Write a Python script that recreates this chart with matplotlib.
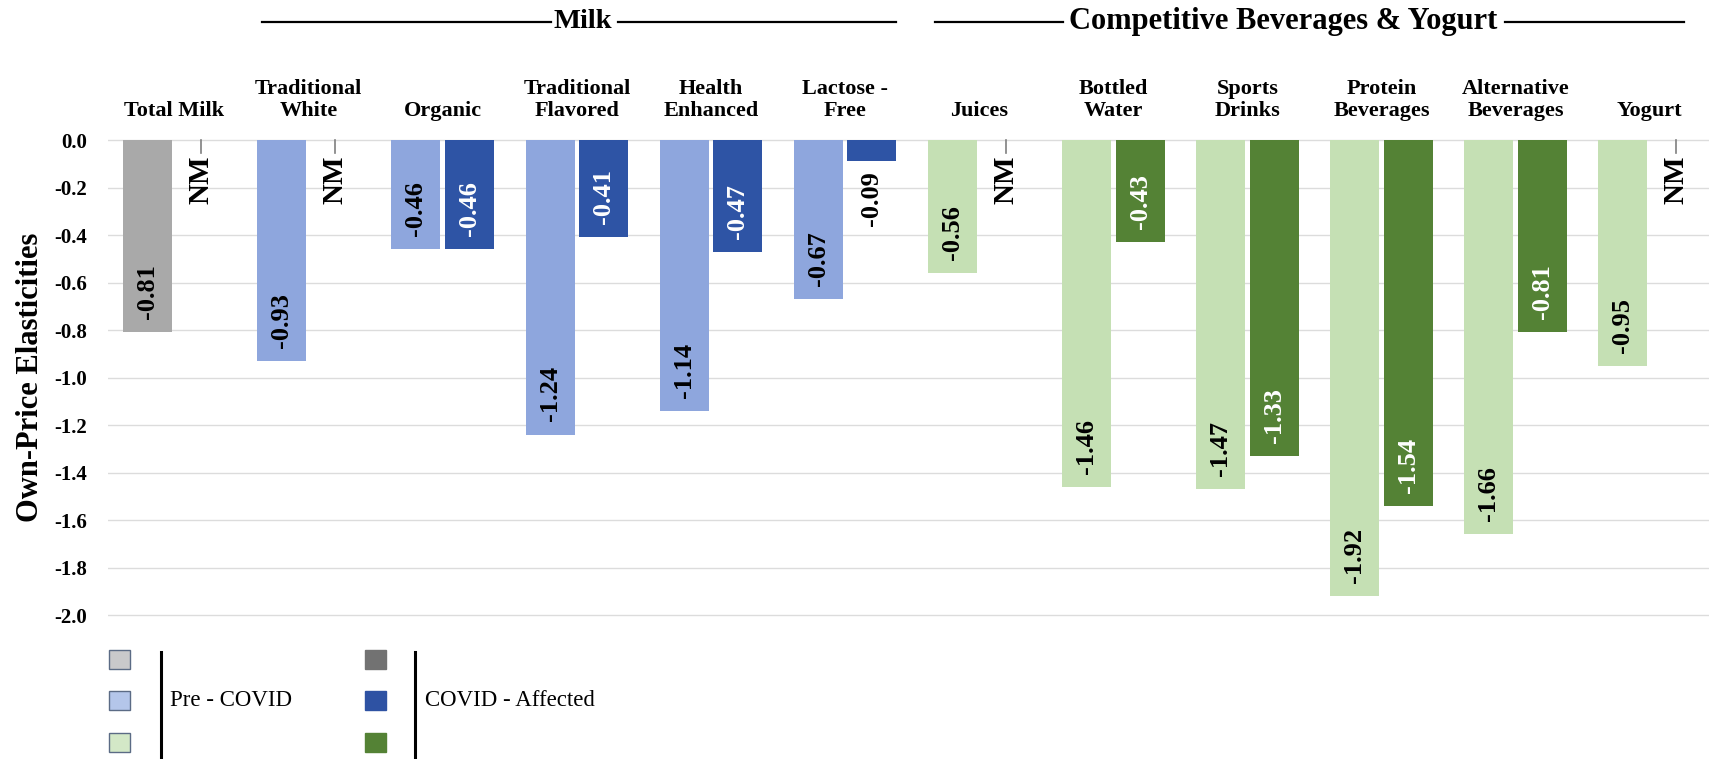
import numpy as np
import matplotlib
matplotlib.use("Agg")
import matplotlib.pyplot as plt
import matplotlib.transforms as mtransforms
from matplotlib.patches import Rectangle
from matplotlib.lines import Line2D

plt.rcParams["font.family"] = ["Liberation Serif", "DejaVu Serif"]

# ---- data -------------------------------------------------------------
categories = ["Total Milk", "Traditional\nWhite", "Organic", "Traditional\nFlavored",
              "Health\nEnhanced", "Lactose -\nFree", "Juices", "Bottled\nWater",
              "Sports\nDrinks", "Protein\nBeverages", "Alternative\nBeverages", "Yogurt"]
segment = ["total", "milk", "milk", "milk", "milk", "milk",
           "bev", "bev", "bev", "bev", "bev", "bev"]
pre_covid = [-0.81, -0.93, -0.46, -1.24, -1.14, -0.67,
             -0.56, -1.46, -1.47, -1.92, -1.66, -0.95]
covid_affected = [None, None, -0.46, -0.41, -0.47, -0.09,
                  None, -0.43, -1.33, -1.54, -0.81, None]
y_ticks = [0.0, -0.2, -0.4, -0.6, -0.8, -1.0, -1.2, -1.4, -1.6, -1.8, -2.0]
y_tick_labels = ["0.0", "-0.2", "-0.4", "-0.6", "-0.8", "-1.0",
                 "-1.2", "-1.4", "-1.6", "-1.8", "-2.0"]
headers = ["Milk", "Competitive Beverages & Yogurt"]
legend_labels = ["Pre - COVID", "COVID - Affected"]

# ---- styles -----------------------------------------------------------
pre_colors = {"total": "#A9A9A9", "milk": "#8EA6DD", "bev": "#C5E0B4"}
covid_colors = {"total": "#737373", "milk": "#2E54A5", "bev": "#548235"}
legend_pre = ["#C9C9CB", "#B4C6EA", "#D3E8C7"]
legend_covid = ["#727272", "#2E52A3", "#548235"]

W, H = 1709, 759
fig = plt.figure(figsize=(W / 100, H / 100), dpi=100)

cat_px = 134.1          # width of one category slot in pixels
left_px = 107.5
y0_px, y2_px = 140, 615  # pixel rows of 0.0 and -2.0
ppu = (y2_px - y0_px) / 2.0
ymin, ymax = -2.02, 0.02
ax_top = y0_px - ymax * ppu
ax_bot = y2_px + (-2.0 - ymin) * ppu
ax = fig.add_axes([left_px / W, 1 - ax_bot / H, (W - left_px) / W, (ax_bot - ax_top) / H])
ax.set_xlim(-0.5, (W - left_px) / cat_px - 0.5)
ax.set_ylim(ymin, ymax)

for s in ax.spines.values():
    s.set_visible(False)
ax.set_xticks([])
ax.set_yticks(y_ticks)
ax.set_yticklabels(y_tick_labels, fontsize=15, fontweight="bold")
ax.tick_params(axis="y", length=0, pad=14.5)
ax.yaxis.grid(True, color="#DCDCDC", linewidth=1.0, zorder=0)
ax.set_axisbelow(True)

x = np.arange(len(categories))
off, bw = 0.2, 0.365

pre_vals = np.array(pre_covid, dtype=float)
ax.bar(x - off, pre_vals, width=bw, color=[pre_colors[s] for s in segment], zorder=3)

cov_idx = [i for i, v in enumerate(covid_affected) if v is not None]
cov_vals = np.array([covid_affected[i] for i in cov_idx], dtype=float)
ax.bar(x[cov_idx] + off, cov_vals, width=bw,
       color=[covid_colors[segment[i]] for i in cov_idx], zorder=3)

lab_kw = dict(rotation=90, ha="center", fontsize=19, fontweight="bold", zorder=5)


def value_label(xpos, v, dark):
    txt = f"{v:.2f}"
    if abs(v) > 0.3:
        ax.text(xpos, v + 0.055, txt, va="bottom", color="white" if dark else "black", **lab_kw)
    else:
        ax.text(xpos, v - 0.04, txt, va="top", color="black", **lab_kw)


for i, v in enumerate(pre_vals):
    value_label(x[i] - off, v, False)
for i, v in zip(cov_idx, cov_vals):
    value_label(x[i] + off, v, True)

# not-measured markers
for i, v in enumerate(covid_affected):
    if v is None:
        ax.plot([x[i] + off, x[i] + off], [0, -0.055], color="#7F7F7F", lw=1.2, zorder=4)
        ax.text(x[i] + off, -0.065, "NM", rotation=90, ha="center", va="top",
                fontsize=21, fontweight="bold", zorder=5)

# category labels above the plot
cat_tr = mtransforms.blended_transform_factory(ax.transData, fig.transFigure)
for i, c in enumerate(categories):
    ax.text(x[i], 1 - 121 / H, c, transform=cat_tr, ha="center", va="bottom",
            fontsize=16, fontweight="bold", linespacing=1.12, multialignment="center")

# section headers with rules
hy = 1 - 22 / H
ax.text(3.046, hy, headers[0], transform=cat_tr, ha="center", va="center",
        fontsize=20.5, fontweight="bold")
ax.text(8.266, hy, headers[1], transform=cat_tr, ha="center", va="center",
        fontsize=22, fontweight="bold")
for xa, xb in [(0.652, 2.807), (3.307, 5.380), (5.671, 6.625), (9.921, 11.256)]:
    ax.add_line(Line2D([xa, xb], [hy, hy], transform=cat_tr, color="black",
                       lw=1.6, clip_on=False))

# y-axis title
fig.text(31 / W, 1 - 377 / H, "Own-Price Elasticities", rotation=90, ha="center",
         va="center", fontsize=22, fontweight="bold")

# legend
rows_px = [659, 700, 742]
sq_w, sq_h = 21, 19
for col, (sx, lx, tx, cols, lab) in enumerate([
        (109, 161, 170, legend_pre, legend_labels[0]),
        (365, 415, 425, legend_covid, legend_labels[1])]):
    for ry, fc in zip(rows_px, cols):
        fig.add_artist(Rectangle((sx / W, 1 - (ry + sq_h / 2) / H), sq_w / W, sq_h / H,
                                 transform=fig.transFigure, facecolor=fc,
                                 edgecolor="#5B6B85" if col == 0 else fc, lw=1.0))
    fig.add_artist(Line2D([lx / W, lx / W], [1 - 652 / H, 0], transform=fig.transFigure,
                          color="black", lw=2.2))
    fig.text(tx / W, 1 - 700 / H, lab, ha="left", va="center", fontsize=16.5)

fig.savefig("out.png", dpi=100, facecolor="white")
